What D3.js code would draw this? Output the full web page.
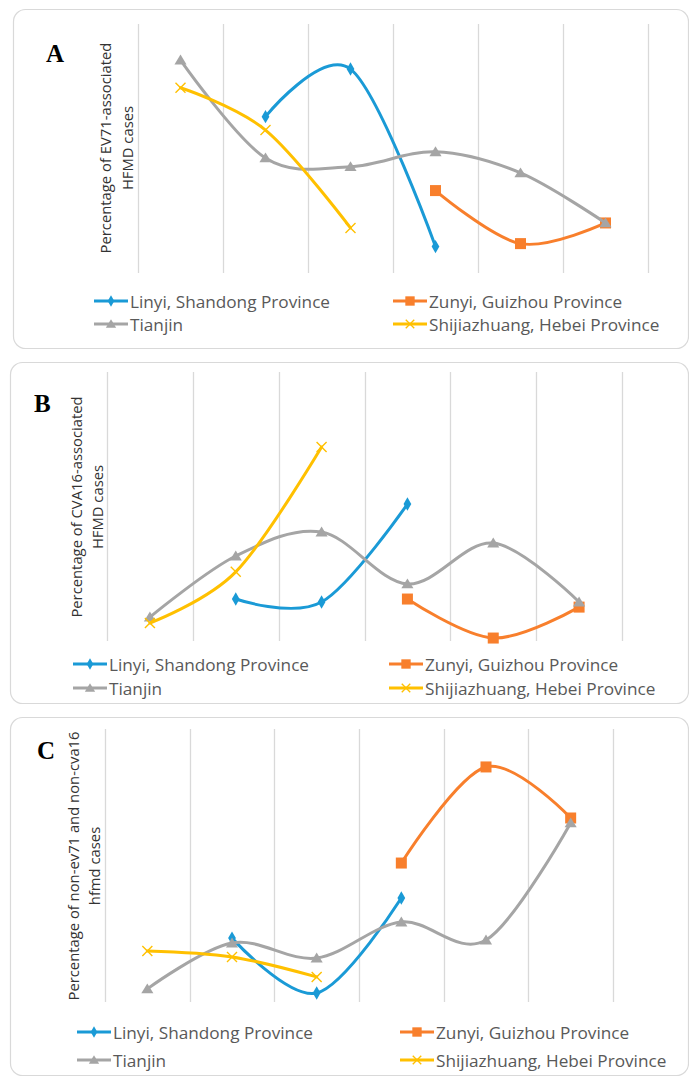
<!DOCTYPE html>
<html lang="en">
  <head>
    <meta charset="UTF-8" />
    <title>HFMD enterovirus share by city</title>
    <script src="https://d3js.org/d3.v7.min.js"></script>
    <style>
      body {
        margin: 0;
        background: #fff;
      }
      svg {
        display: block;
      }
    </style>
  </head>
  <body>
    <svg width="689" height="1077"></svg>
    <script>
      // six time points, no visible labels on the x axis
      const categories = ["1", "2", "3", "4", "5", "6"];
      const seriesNames = [
        "Linyi, Shandong Province",
        "Zunyi, Guizhou Province",
        "Tianjin",
        "Shijiazhuang, Hebei Province",
      ];
      const seriesColors = ["#1a9ad6", "#f87f2c", "#a5a5a5", "#ffc000"];
      const seriesMarkers = ["diamond", "square", "triangle", "x"];

      // values (relative scale 0-100, axis hidden)
      const evLinyi = [null, 62.8, 81.9, 10.6, null, null];
      const evZunyi = [null, null, null, 33.1, 11.8, 20.1];
      const evTianjin = [85.5, 46.2, 42.7, 48.7, 40.2, 20.1];
      const evShijiazhuang = [74.4, 57.4, 18.1, null, null, null];

      const cvLinyi = [null, 15.6, 14.5, 50.9, null, null];
      const cvZunyi = [null, null, null, 15.6, 1.1, 12.6];
      const cvTianjin = [8.9, 31.6, 40.5, 21.2, 36.4, 14.5];
      const cvShijiazhuang = [6.7, 25.7, 72.1, null, null, null];

      const otLinyi = [null, 23.4, 3.3, 38.1, null, null];
      const otZunyi = [null, null, null, 50.9, 86.1, 67.4];
      const otTianjin = [4.8, 21.6, 16.1, 29.3, 22.7, 65.6];
      const otShijiazhuang = [18.7, 16.5, 9.2, null, null, null];

      const panels = [
        {
          letter: "A",
          title: ["Percentage of EV71-associated", "HFMD cases"],
          series: [evLinyi, evZunyi, evTianjin, evShijiazhuang],
          box: [13, 9, 688, 348],
          plot: [138, 648, 24, 273],
          letterPos: [46, 62],
          titlePos: [105, 127, 148],
          legend: { left: 94, right: 393, rows: [301, 324] },
        },
        {
          letter: "B",
          title: ["Percentage of CVA16-associated", "HFMD cases"],
          series: [cvLinyi, cvZunyi, cvTianjin, cvShijiazhuang],
          box: [10, 362, 688, 703],
          plot: [107, 622, 372, 641],
          letterPos: [34, 412],
          titlePos: [76, 97, 507],
          legend: { left: 73, right: 389, rows: [664, 688] },
        },
        {
          letter: "C",
          title: ["Percentage of non-ev71 and non-cva16", "hfmd cases"],
          series: [otLinyi, otZunyi, otTianjin, otShijiazhuang],
          box: [10, 717, 688, 1075],
          plot: [105, 613, 729, 1002],
          letterPos: [37, 759],
          titlePos: [73, 94, 866],
          legend: { left: 77, right: 400, rows: [1032, 1060] },
        },
      ];

      const svg = d3.select("svg");

      function drawMarker(g, type, x, y, color, s) {
        if (type === "diamond") {
          g.append("path")
            .attr("d", d3.symbol(d3.symbolDiamond, 52 * s * s)())
            .attr("transform", `translate(${x},${y})`)
            .attr("fill", color);
        } else if (type === "square") {
          const h = 5.5 * s;
          g.append("rect")
            .attr("x", x - h)
            .attr("y", y - h)
            .attr("width", 2 * h)
            .attr("height", 2 * h)
            .attr("fill", color);
        } else if (type === "triangle") {
          const h = 5.5 * s;
          g.append("path")
            .attr("d", `M${x},${y - h}L${x + h * 1.1},${y + h * 0.8}L${x - h * 1.1},${y + h * 0.8}Z`)
            .attr("fill", color);
        } else {
          const h = 5 * s;
          g.append("path")
            .attr("d", `M${x - h},${y - h}L${x + h},${y + h}M${x - h},${y + h}L${x + h},${y - h}`)
            .attr("stroke", color)
            .attr("stroke-width", 1.4)
            .attr("fill", "none");
        }
      }

      panels.forEach((p) => {
        const g = svg.append("g");
        const [bx0, by0, bx1, by1] = p.box;

        g.append("rect")
          .attr("x", bx0 + 0.5)
          .attr("y", by0 + 0.5)
          .attr("width", bx1 - bx0)
          .attr("height", by1 - by0)
          .attr("rx", 12)
          .attr("fill", "#fff")
          .attr("stroke", "#d9d9d9")
          .attr("stroke-width", 1.2);

        const [px0, px1, py0, py1] = p.plot;
        const x = d3.scaleBand().domain(categories).range([px0, px1]);
        const y = d3.scaleLinear().domain([0, 100]).range([py1, py0]);

        // vertical gridlines at the band edges
        const edges = categories.map((c) => x(c)).concat([px1]);
        g.selectAll(".grid")
          .data(edges)
          .enter()
          .append("line")
          .attr("x1", (d) => Math.round(d) + 0.5)
          .attr("x2", (d) => Math.round(d) + 0.5)
          .attr("y1", py0)
          .attr("y2", py1)
          .attr("stroke", "#d9d9d9")
          .attr("stroke-width", 1.3);

        const cx = (i) => x(categories[i]) + x.bandwidth() / 2;
        const line = d3
          .line()
          .defined((d) => d != null)
          .x((d, i) => cx(i))
          .y((d) => y(d))
          .curve(d3.curveCardinal.tension(0));

        p.series.forEach((vals, si) => {
          g.append("path")
            .attr("d", line(vals))
            .attr("fill", "none")
            .attr("stroke", seriesColors[si])
            .attr("stroke-width", 3)
            .attr("stroke-linecap", "round");
          vals.forEach((v, i) => {
            if (v == null) return;
            drawMarker(g, seriesMarkers[si], cx(i), y(v), seriesColors[si], 1);
          });
        });

        // panel letter
        g.append("text")
          .attr("x", p.letterPos[0])
          .attr("y", p.letterPos[1])
          .attr("font-family", "Liberation Serif, serif")
          .attr("font-weight", "bold")
          .attr("font-size", 25)
          .attr("fill", "#000")
          .text(p.letter);

        // rotated axis title, two lines
        p.title.forEach((t, i) => {
          g.append("text")
            .attr("transform", `translate(${p.titlePos[i]},${p.titlePos[2]}) rotate(-90)`)
            .attr("text-anchor", "middle")
            .attr("dominant-baseline", "central")
            .attr("font-family", "Open Sans, sans-serif")
            .attr("font-size", 14.8)
            .attr("fill", "#333")
            .text(t);
        });

        // legend, two columns by two rows
        seriesNames.forEach((name, si) => {
          const lx = si % 2 === 0 ? p.legend.left : p.legend.right;
          const ly = p.legend.rows[Math.floor(si / 2)];
          g.append("line")
            .attr("x1", lx)
            .attr("x2", lx + 34)
            .attr("y1", ly)
            .attr("y2", ly)
            .attr("stroke", seriesColors[si])
            .attr("stroke-width", 3);
          drawMarker(g, seriesMarkers[si], lx + 17, ly, seriesColors[si], 0.85);
          g.append("text")
            .attr("x", lx + 36)
            .attr("y", ly)
            .attr("dominant-baseline", "central")
            .attr("font-family", "Open Sans, sans-serif")
            .attr("font-size", 17.2)
            .attr("fill", "#595959")
            .text(name);
        });
      });
    </script>
  </body>
</html>
